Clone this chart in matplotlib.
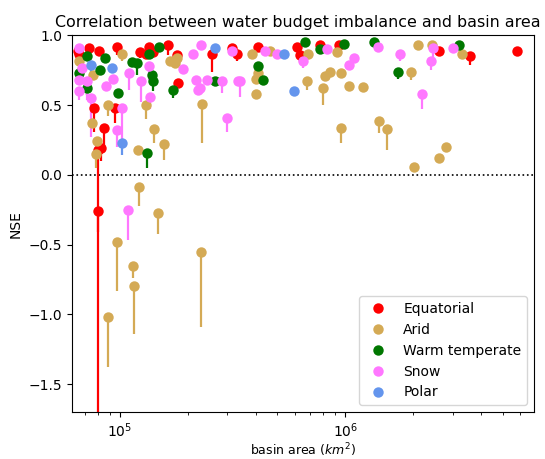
import matplotlib
matplotlib.use("Agg")
import matplotlib.pyplot as plt
from matplotlib.lines import Line2D

# ---------------- data (basin area km2, NSE, NSE at stem end) ----------------
eq_area = [5.8e6, 3.6e6, 2.6e6, 9.4e5, 7.7e5, 6.3e5, 4.1e5, 3.3e5, 3.15e5, 2.56e5,
           1.8e5, 1.79e5, 1.63e5, 1.35e5, 9.7e4, 8.07e4, 7.3e4, 6.6e4, 6.5e4,
           7.7e4, 8.5e4, 9.5e4, 8.2e4, 8.0e4, 7.95e4, 1.31e5, 1.4e5, 1.23e5, 6.1e5]
eq_nse = [0.89, 0.85, 0.89, 0.93, 0.93, 0.86, 0.92, 0.87, 0.91, 0.87,
          0.66, 0.86, 0.93, 0.92, 0.92, 0.89, 0.91, 0.87, 0.89,
          0.48, 0.34, 0.48, 0.19, 0.18, -0.26, 0.87, 0.88, 0.88, 0.92]
eq_end = [0.86, 0.79, 0.89, 0.88, 0.90, 0.81, 0.92, 0.82, 0.91, 0.74,
          0.66, 0.81, 0.86, 0.88, 0.86, 0.86, 0.91, 0.82, 0.89,
          0.31, 0.18, 0.37, 0.10, -3.0, -0.41, 0.84, 0.85, 0.84, 0.92]

ar_area = [2.29e5, 8.85e4, 9.7e4, 1.14e5, 1.15e5, 1.21e5, 1.48e5, 7.8e4, 7.9e4, 1.2e5,
           1.57e5, 1.42e5, 8.85e4, 1.31e5, 2.31e5, 7.5e4, 1.02e5, 8.0e5, 6.8e5, 9.6e5,
           1.42e6, 1.54e6, 1.04e6, 1.2e6, 8.15e5, 8.6e5, 9.6e5, 4.0e5, 4.0e5, 4.1e5,
           3.86e5, 6.85e5, 9.2e5, 4.64e5, 1.96e6, 2.03e6, 2.6e6, 2.8e6, 2.1e6, 2.44e6,
           3.3e6, 6.6e4, 7.6e4, 1.66e5, 1.79e5, 1.75e5]
ar_nse = [-0.55, -1.02, -0.48, -0.65, -0.80, -0.09, -0.27, 0.15, 0.24, 0.18,
          0.22, 0.33, 0.50, 0.50, 0.51, 0.37, 0.87, 0.62, 0.67, 0.34,
          0.39, 0.33, 0.64, 0.63, 0.71, 0.74, 0.73, 0.58, 0.69, 0.73,
          0.87, 0.87, 0.88, 0.89, 0.74, 0.06, 0.12, 0.20, 0.93, 0.93,
          0.87, 0.82, 0.72, 0.82, 0.84, 0.80]
ar_end = [-1.09, -1.38, -0.83, -0.74, -1.14, -0.22, -0.42, 0.05, 0.18, 0.15,
          0.11, 0.23, 0.42, 0.40, 0.23, 0.34, 0.82, 0.50, 0.61, 0.23,
          0.30, 0.18, 0.61, 0.63, 0.71, 0.74, 0.73, 0.58, 0.69, 0.73,
          0.87, 0.87, 0.88, 0.89, 0.68, 0.06, 0.12, 0.20, 0.93, 0.93,
          0.87, 0.78, 0.68, 0.82, 0.84, 0.80]

wt_area = [1.32e5, 6.6e5, 9.9e5, 7.7e5, 1.35e6, 4.1e5, 4.3e5, 1.72e6, 3.2e6, 1.49e5,
           1.35e5, 8.6e4, 1.13e5, 1.19e5, 9.8e4, 1.72e5, 1.39e5, 1.4e5, 2.64e5, 6.6e4,
           8.15e4, 7.1e4, 7.1e4]
wt_nse = [0.16, 0.95, 0.94, 0.90, 0.95, 0.78, 0.68, 0.74, 0.93, 0.92,
          0.87, 0.84, 0.81, 0.80, 0.59, 0.61, 0.72, 0.67, 0.67, 0.73,
          0.75, 0.85, 0.62]
wt_end = [0.05, 0.95, 0.94, 0.90, 0.95, 0.78, 0.65, 0.69, 0.93, 0.92,
          0.87, 0.84, 0.81, 0.72, 0.59, 0.55, 0.65, 0.60, 0.64, 0.73,
          0.75, 0.85, 0.57]

sn_area = [6.6e4, 6.8e4, 6.6e4, 6.6e4, 7.1e4, 7.4e4, 8.7e4, 9.3e4, 9.7e4, 1.02e5,
           1.1e5, 1.24e5, 1.36e5, 1.35e5, 1.91e5, 2.1e5, 2.3e5, 2.18e5, 2.27e5, 2.44e5,
           2.84e5, 3.0e5, 3.15e5, 3.34e5, 1.085e5, 3.4e5, 6.5e5, 8.3e5, 1.09e6, 1.04e6,
           1.76e6, 1.4e6, 5.0e5, 4.4e5, 2.46e6, 2.41e6, 3.0e6, 2.2e6, 2.22e5]
sn_nse = [0.91, 0.77, 0.68, 0.60, 0.67, 0.55, 0.64, 0.69, 0.32, 0.48,
          0.73, 0.67, 0.56, 0.78, 0.76, 0.87, 0.93, 0.68, 0.62, 0.68,
          0.67, 0.41, 0.89, 0.67, -0.25, 0.67, 0.82, 0.90, 0.84, 0.79,
          0.87, 0.92, 0.87, 0.89, 0.91, 0.82, 0.91, 0.58, 0.61]
sn_end = [0.91, 0.77, 0.68, 0.54, 0.54, 0.27, 0.64, 0.69, 0.20, 0.25,
          0.61, 0.52, 0.47, 0.68, 0.76, 0.87, 0.93, 0.68, 0.62, 0.68,
          0.59, 0.31, 0.89, 0.67, -0.47, 0.56, 0.77, 0.90, 0.84, 0.79,
          0.82, 0.92, 0.87, 0.89, 0.82, 0.75, 0.91, 0.47, 0.57]

po_area = [2.64e5, 7.4e4, 9.2e4, 1.02e5, 5.35e5, 5.9e5]
po_nse = [0.91, 0.79, 0.77, 0.23, 0.87, 0.60]
po_end = [0.91, 0.74, 0.77, 0.14, 0.87, 0.60]

groups = ["Equatorial", "Arid", "Warm temperate", "Snow", "Polar"]
colors = ["#ff0000", "#d4aa55", "#007700", "#ff77ff", "#6495ed"]

# ---------------- plot ----------------
fig = plt.figure(figsize=(5.45, 4.59), dpi=100)
ax = fig.add_axes([0.1316, 0.1024, 0.9798 - 0.1316, 0.9227 - 0.1024])

series = [(eq_area, eq_nse, eq_end), (ar_area, ar_nse, ar_end),
          (wt_area, wt_nse, wt_end), (sn_area, sn_nse, sn_end),
          (po_area, po_nse, po_end)]

for (a, n, e), c in zip(series, colors):
    ax.vlines(a, e, n, colors=c, linewidth=1.6, zorder=2)
    ax.plot(a, n, 'o', color=c, markersize=7.5, markeredgewidth=0, zorder=3)

ax.axhline(0, color='black', linestyle=':', linewidth=1.2, zorder=1)

ax.set_xscale('log')
ax.set_xlim(6.1e4, 6.9e6)
ax.set_ylim(-1.7, 1.0)
ax.set_yticks([-1.5, -1.0, -0.5, 0.0, 0.5, 1.0])
ax.set_xlabel('basin area ($km^2$)', fontsize=9)
ax.xaxis.set_label_coords(0.5, -0.077)
ax.set_ylabel('NSE')
ax.set_title('Correlation between water budget imbalance and basin area',
             fontsize=11.4, x=0.49)

handles = [Line2D([], [], marker='o', linestyle='none', color=c, markersize=7.5,
                  markeredgewidth=0) for c in colors]
ax.legend(handles, groups, loc='lower right')

fig.savefig('out.png', dpi=100)
